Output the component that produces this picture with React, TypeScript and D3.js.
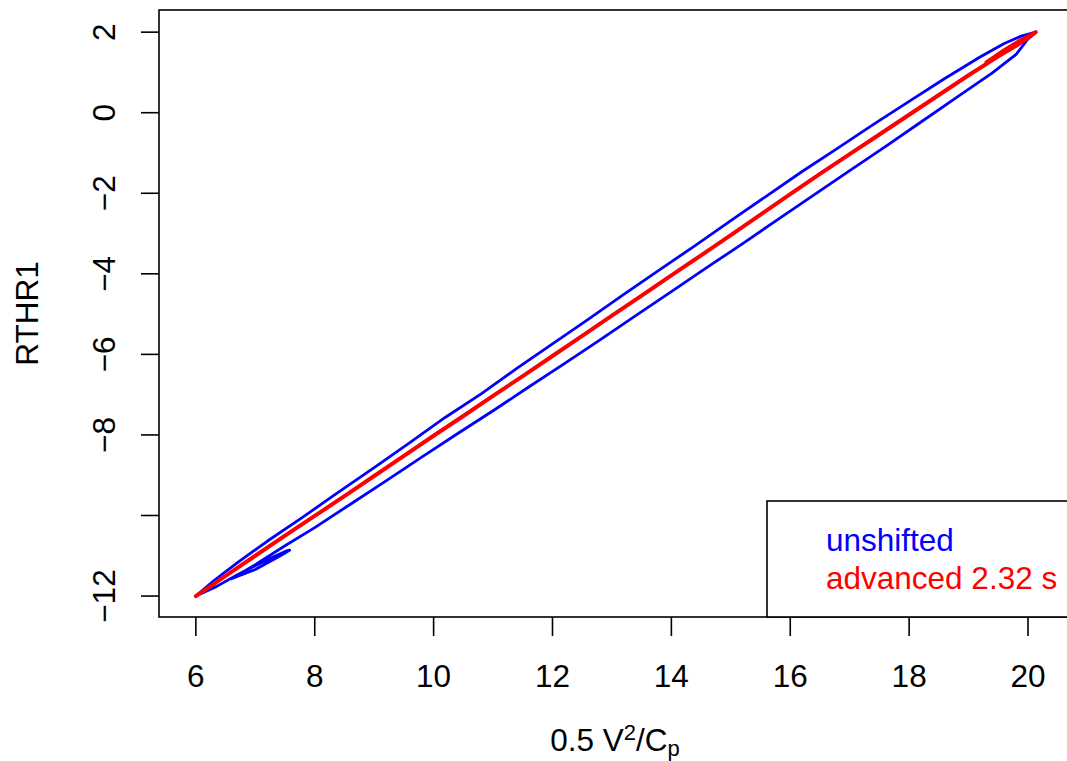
import React from "react";
import * as d3 from "d3";

// ---- data ----
const xTicks = [6, 8, 10, 12, 14, 16, 18, 20];
const xTickLabels = ["6", "8", "10", "12", "14", "16", "18", "20"];
const yTicks = [-12, -10, -8, -6, -4, -2, 0, 2];
const yTickLabels = ["\u221212", "", "\u22128", "\u22126", "\u22124", "\u22122", "0", "2"];

// unshifted loop: upper branch, lower branch, then small hook near the lower-left end
const blueX = [
  6.0, 6.3, 6.7, 7.2, 7.8, 8.4, 9.0, 9.6, 10.2, 10.8, 11.4, 12.0, 12.6, 13.2, 13.8, 14.4, 15.0,
  15.6, 16.2, 16.8, 17.4, 18.0, 18.6, 19.2, 19.6, 19.9, 20.13,
  20.0, 19.8, 19.4, 18.8, 18.2, 17.6, 17.0, 16.4, 15.8, 15.2, 14.6, 14.0, 13.4, 12.8, 12.2,
  11.6, 11.0, 10.4, 9.8, 9.2, 8.6, 8.0, 7.5, 7.0, 6.6,
  7.0, 7.3, 7.5, 7.58, 7.52, 7.3, 7.0, 6.7, 6.35, 6.0,
];
const blueY = [
  -12.0, -11.62, -11.17, -10.64, -10.04, -9.42, -8.81, -8.19, -7.56, -6.98, -6.35, -5.74, -5.13,
  -4.51, -3.9, -3.3, -2.68, -2.07, -1.46, -0.88, -0.29, 0.28, 0.85, 1.39, 1.72, 1.91, 2.0,
  1.83, 1.45, 0.99, 0.38, -0.23, -0.84, -1.44, -2.04, -2.64, -3.25, -3.84, -4.44, -5.04, -5.64,
  -6.23, -6.81, -7.4, -7.97, -8.55, -9.14, -9.72, -10.3, -10.75, -11.22, -11.57,
  -11.34, -11.1, -10.93, -10.86, -10.88, -11.03, -11.25, -11.47, -11.76, -12.0,
];

// advanced 2.32 s: nearly collapsed line
const redX = [
  6.0, 6.5, 7.0, 7.5, 8.0, 8.5, 9.0, 9.5, 10.0, 10.5, 11.0, 11.5, 12.0, 12.5, 13.0, 13.5, 14.0,
  14.5, 15.0, 15.5, 16.0, 16.5, 17.0, 17.5, 18.0, 18.5, 19.0, 19.5, 19.8, 20.0, 20.13,
  19.9, 19.6, 19.3,
];
const redY = [
  -12.0, -11.5, -11.0, -10.5, -10.01, -9.52, -9.02, -8.52, -8.02, -7.53, -7.03, -6.54, -6.04,
  -5.54, -5.04, -4.54, -4.04, -3.54, -3.04, -2.53, -2.02, -1.52, -1.03, -0.54, -0.05, 0.44,
  0.93, 1.4, 1.66, 1.86, 2.0,
  1.82, 1.55, 1.25,
];

const legendLabels = ["unshifted", "advanced 2.32 s"];
const legendColors = ["#0000FF", "#FF0000"];

const FONT = "'Liberation Sans', Arial, Helvetica, sans-serif";

export default function App() {
  const W = 1067;
  const H = 761;
  const left = 159;
  const right = 1072;
  const top = 10;
  const bottom = 617;

  const x = d3.scaleLinear().domain([5.38, 20.74]).range([left, right]);
  const y = d3.scaleLinear().domain([-12.52, 2.55]).range([bottom, top]);

  const line = d3
    .line<[number, number]>()
    .x((d) => x(d[0]))
    .y((d) => y(d[1]));

  const bluePts = blueX.map((v, i) => [v, blueY[i]] as [number, number]);
  const redPts = redX.map((v, i) => [v, redY[i]] as [number, number]);

  const fs = 31.5;

  return (
    <svg
      width={W}
      height={H}
      style={{ position: "absolute", left: 0, top: 0, background: "#fff" }}
      fontFamily={FONT}
    >
      <defs>
        <clipPath id="plotclip">
          <rect x={left} y={top} width={right - left} height={bottom - top} />
        </clipPath>
      </defs>
      <rect x={0} y={0} width={W} height={H} fill="#fff" />

      <g clipPath="url(#plotclip)">
        <path d={line(bluePts) || ""} fill="none" stroke="#0000FF" strokeWidth={2.8} strokeLinejoin="round" strokeLinecap="round" />
        <path d={line(redPts) || ""} fill="none" stroke="#FF0000" strokeWidth={4} strokeLinejoin="round" strokeLinecap="round" />
      </g>

      {/* frame */}
      <rect x={left} y={top} width={right - left} height={bottom - top} fill="none" stroke="#000" strokeWidth={1.6} />

      {/* x axis */}
      {xTicks.map((t, i) => (
        <g key={"xt" + i}>
          <line x1={x(t)} x2={x(t)} y1={bottom} y2={bottom + 19} stroke="#000" strokeWidth={1.6} />
          <text x={x(t)} y={687} fontSize={fs} textAnchor="middle" fill="#000">
            {xTickLabels[i]}
          </text>
        </g>
      ))}

      {/* y axis */}
      {yTicks.map((t, i) => (
        <g key={"yt" + i}>
          <line x1={left - 18} x2={left} y1={y(t)} y2={y(t)} stroke="#000" strokeWidth={1.6} />
          {yTickLabels[i] !== "" && (
            <text
              transform={`translate(115,${y(t)}) rotate(-90)`}
              fontSize={fs}
              textAnchor="middle"
              fill="#000"
            >
              {yTickLabels[i]}
            </text>
          )}
        </g>
      ))}

      {/* axis titles */}
      <text x={615} y={751} fontSize={fs} textAnchor="middle" fill="#000">
        0.5 V
        <tspan dy={-11} fontSize={22}>2</tspan>
        <tspan dy={11}>/C</tspan>
        <tspan dy={5} fontSize={22}>p</tspan>
      </text>
      <text transform={`translate(38,${(top + bottom) / 2}) rotate(-90)`} fontSize={fs} textAnchor="middle" fill="#000">
        RTHR1
      </text>

      {/* legend */}
      <rect x={767} y={501} width={right - 767} height={bottom - 501} fill="#fff" stroke="#000" strokeWidth={1.6} />
      {legendLabels.map((s, i) => (
        <text key={"lg" + i} x={826} y={551 + i * 38} fontSize={fs} fill={legendColors[i]}>
          {s}
        </text>
      ))}
    </svg>
  );
}
